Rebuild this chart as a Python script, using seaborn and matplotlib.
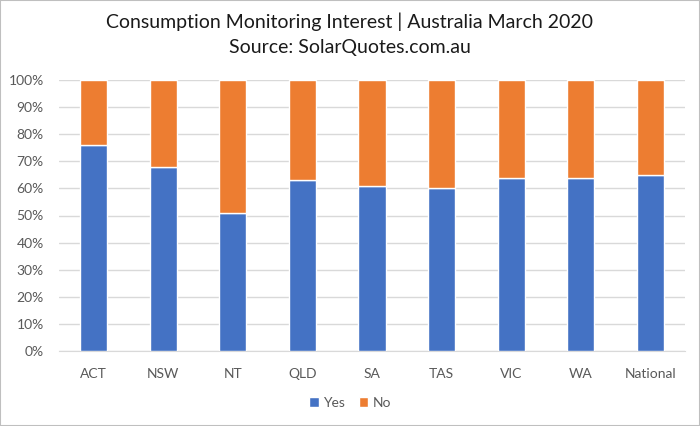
import matplotlib
matplotlib.use("Agg")
import matplotlib.pyplot as plt
import seaborn as sns
import pandas as pd
from matplotlib.patches import Patch, Rectangle
from matplotlib.ticker import PercentFormatter

# дані з графіка
states = ["ACT", "NSW", "NT", "QLD", "SA", "TAS", "VIC", "WA", "National"]
yes_pct = [76, 68, 51, 63, 61, 60, 64, 64, 65]
no_pct = [100 - v for v in yes_pct]

df = pd.DataFrame({"state": states, "Yes": yes_pct, "No": no_pct})

sns.set_style("white")
plt.rcParams["font.family"] = ["Lato", "DejaVu Sans"]

blue = "#4472C4"
orange = "#ED7D31"
tick_color = "#595959"

fig = plt.figure(figsize=(7, 4.26), dpi=100)
ax = fig.add_axes([59 / 700, 1 - 351 / 426, 626 / 700, 271 / 426])

sns.barplot(data=df, x="state", y="Yes", color=blue, width=0.39,
            saturation=1, ax=ax, zorder=3)
sns.barplot(data=df, x="state", y="No", color=orange, width=0.39,
            saturation=1, ax=ax, bottom=df["Yes"], zorder=3)

ax.set_ylim(0, 100)
ax.set_yticks(range(0, 101, 10))
ax.yaxis.set_major_formatter(PercentFormatter(decimals=0))
ax.grid(axis="y", color="#D9D9D9", linewidth=1, zorder=0)
ax.set_xlabel("")
ax.set_ylabel("")
for s in ["top", "right", "left"]:
    ax.spines[s].set_visible(False)
ax.spines["bottom"].set_color("#D9D9D9")
ax.tick_params(axis="both", length=0, labelsize=10, colors=tick_color)
ax.tick_params(axis="x", pad=12)
ax.tick_params(axis="y", pad=11)

fig.text(0.5, 1 - 22 / 426, "Consumption Monitoring Interest | Australia March 2020",
         ha="center", va="center", fontsize=14, color="#1a1a1a")
fig.text(0.5, 1 - 47 / 426, "Source: SolarQuotes.com.au",
         ha="center", va="center", fontsize=14, color="#1a1a1a")

handles = [Patch(facecolor=blue, label="Yes"), Patch(facecolor=orange, label="No")]
fig.legend(handles=handles, loc="center", bbox_to_anchor=(0.5, 1 - 403 / 426),
           ncol=2, frameon=False, fontsize=10, handlelength=0.7, handleheight=0.7,
           handletextpad=0.3, columnspacing=1.0, labelcolor=tick_color)

fig.patches.append(Rectangle((0, 0), 1, 1, transform=fig.transFigure,
                             fill=False, edgecolor="#BFBFBF", linewidth=1.5))

fig.savefig("out.png", dpi=100)
